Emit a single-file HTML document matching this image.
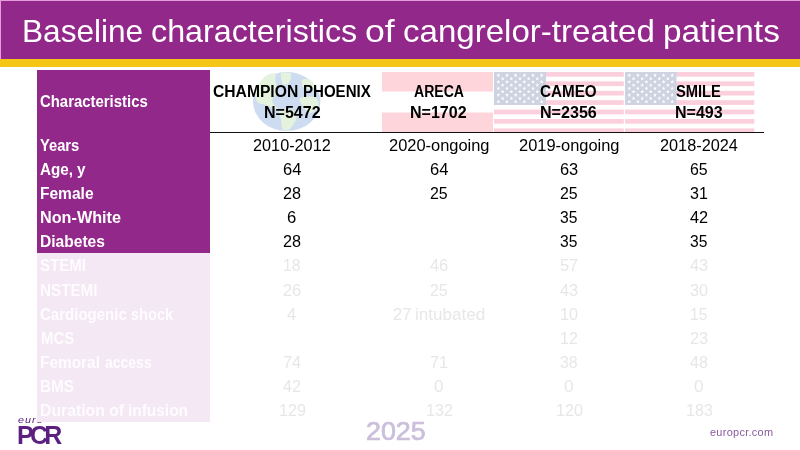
<!DOCTYPE html>
<html lang="en">
<head>
<meta charset="utf-8">
<title>Baseline characteristics of cangrelor-treated patients</title>
<style>
html,body{margin:0;padding:0;background:#fff;}
body{width:800px;height:450px;position:relative;overflow:hidden;font-family:"Liberation Sans",sans-serif;}
.abs{position:absolute;}
.t{position:absolute;white-space:nowrap;transform-origin:0 0;}
.w{position:absolute;top:0;transform-origin:0 0;white-space:nowrap;}
.b{font-weight:bold;}
svg{position:absolute;left:0;top:0;}
</style>
</head>
<body>
<div class="abs" style="left:0;top:0;width:800px;height:58.5px;background:#e59ddf"></div>
<div class="abs" style="left:1.1px;top:1px;width:798.9px;height:57.5px;background:#93288b"></div>
<div class="abs" style="left:0;top:58.5px;width:800px;height:8px;background:#f5c616"></div>
<div class="t" style="left:18.47px;top:414px;line-height:11px;font-size:9.8px;color:#5b2080;font-style:italic;letter-spacing:0.9px;transform:scaleX(1.0935);">euro</div>
<div class="t b" style="left:17.23px;top:421px;line-height:28px;font-size:25.4px;color:#5b2080;letter-spacing:-3.8px;transform:scaleX(0.9822);">PCR</div>
<div class="abs" style="left:37px;top:70px;width:173px;height:182.5px;background:#93288b"></div>
<div class="abs" style="left:37px;top:252.5px;width:173px;height:169px;background:#f3e8f3"></div>
<svg width="800" height="450" viewBox="0 0 800 450" aria-hidden="true">
<g>
<ellipse cx="286.7" cy="101.5" rx="33.7" ry="29.6" fill="#cddcf0"/>
<g fill="#e4f2de">
<path d="M262 80 L266 75.5 Q270 73 276 73.3 Q274.5 78 276 84 Q278.5 88 277 93 Q273 97 272 101 Q273 105 278 108 L276 110 Q270 106 264 104.5 L258 103 Q254.5 98 255.3 92 Q256 86 262 80 Z"/>
<path d="M281 73 Q286 71.8 291 73.5 Q292 79 288 84 L283 85 Q280.5 80 281 73 Z"/>
<path d="M302 80 Q307 77.5 312 81 Q315 85 314 88 Q309 90 304 88 Q301 85 302 80 Z"/>
<path d="M300 98 Q307 95.5 315 97 Q319.5 101 318.5 107 Q316 112 310 113 Q305 110 302 105 Q299 101 300 98 Z"/>
<path d="M279 110 Q285 107.5 292 110 Q297.5 113 296 120 Q293 126 288.5 130.6 L283 130 Q281 125 281 119 Q278 114 279 110 Z"/>
</g>
</g>
<rect x="382" y="72" width="111" height="19.5" fill="#fdd5da"/>
<rect x="382" y="112.5" width="111" height="19.5" fill="#fdd5da"/>
<g>
<rect x="494" y="72.00" width="129.8" height="4.70" fill="#fccfdc"/>
<rect x="494" y="81.40" width="129.8" height="4.70" fill="#fccfdc"/>
<rect x="494" y="90.80" width="129.8" height="4.70" fill="#fccfdc"/>
<rect x="494" y="100.20" width="129.8" height="4.70" fill="#fccfdc"/>
<rect x="494" y="109.60" width="129.8" height="4.70" fill="#fccfdc"/>
<rect x="494" y="119.00" width="129.8" height="4.70" fill="#fccfdc"/>
<rect x="494" y="128.40" width="129.8" height="4.70" fill="#fccfdc"/>
<rect x="494" y="72.0" width="52.0" height="32.90" fill="#cdd3e0"/>
<g fill="#fff">
<polygon points="498.33,73.29 498.83,74.60 500.24,74.67 499.14,75.55 499.51,76.91 498.33,76.14 497.16,76.91 497.52,75.55 496.43,74.67 497.83,74.60"/>
<polygon points="507.00,73.29 507.50,74.60 508.90,74.67 507.81,75.55 508.18,76.91 507.00,76.14 505.82,76.91 506.19,75.55 505.10,74.67 506.50,74.60"/>
<polygon points="515.67,73.29 516.17,74.60 517.57,74.67 516.48,75.55 516.84,76.91 515.67,76.14 514.49,76.91 514.86,75.55 513.76,74.67 515.17,74.60"/>
<polygon points="524.33,73.29 524.83,74.60 526.24,74.67 525.14,75.55 525.51,76.91 524.33,76.14 523.16,76.91 523.52,75.55 522.43,74.67 523.83,74.60"/>
<polygon points="533.00,73.29 533.50,74.60 534.90,74.67 533.81,75.55 534.18,76.91 533.00,76.14 531.82,76.91 532.19,75.55 531.10,74.67 532.50,74.60"/>
<polygon points="541.67,73.29 542.17,74.60 543.57,74.67 542.48,75.55 542.84,76.91 541.67,76.14 540.49,76.91 540.86,75.55 539.76,74.67 541.17,74.60"/>
<polygon points="502.67,76.58 503.17,77.89 504.57,77.96 503.48,78.84 503.84,80.20 502.67,79.43 501.49,80.20 501.86,78.84 500.76,77.96 502.17,77.89"/>
<polygon points="511.33,76.58 511.83,77.89 513.24,77.96 512.14,78.84 512.51,80.20 511.33,79.43 510.16,80.20 510.52,78.84 509.43,77.96 510.83,77.89"/>
<polygon points="520.00,76.58 520.50,77.89 521.90,77.96 520.81,78.84 521.18,80.20 520.00,79.43 518.82,80.20 519.19,78.84 518.10,77.96 519.50,77.89"/>
<polygon points="528.67,76.58 529.17,77.89 530.57,77.96 529.48,78.84 529.84,80.20 528.67,79.43 527.49,80.20 527.86,78.84 526.76,77.96 528.17,77.89"/>
<polygon points="537.33,76.58 537.83,77.89 539.24,77.96 538.14,78.84 538.51,80.20 537.33,79.43 536.16,80.20 536.52,78.84 535.43,77.96 536.83,77.89"/>
<polygon points="498.33,79.87 498.83,81.18 500.24,81.25 499.14,82.13 499.51,83.49 498.33,82.72 497.16,83.49 497.52,82.13 496.43,81.25 497.83,81.18"/>
<polygon points="507.00,79.87 507.50,81.18 508.90,81.25 507.81,82.13 508.18,83.49 507.00,82.72 505.82,83.49 506.19,82.13 505.10,81.25 506.50,81.18"/>
<polygon points="515.67,79.87 516.17,81.18 517.57,81.25 516.48,82.13 516.84,83.49 515.67,82.72 514.49,83.49 514.86,82.13 513.76,81.25 515.17,81.18"/>
<polygon points="524.33,79.87 524.83,81.18 526.24,81.25 525.14,82.13 525.51,83.49 524.33,82.72 523.16,83.49 523.52,82.13 522.43,81.25 523.83,81.18"/>
<polygon points="533.00,79.87 533.50,81.18 534.90,81.25 533.81,82.13 534.18,83.49 533.00,82.72 531.82,83.49 532.19,82.13 531.10,81.25 532.50,81.18"/>
<polygon points="541.67,79.87 542.17,81.18 543.57,81.25 542.48,82.13 542.84,83.49 541.67,82.72 540.49,83.49 540.86,82.13 539.76,81.25 541.17,81.18"/>
<polygon points="502.67,83.16 503.17,84.47 504.57,84.54 503.48,85.42 503.84,86.78 502.67,86.01 501.49,86.78 501.86,85.42 500.76,84.54 502.17,84.47"/>
<polygon points="511.33,83.16 511.83,84.47 513.24,84.54 512.14,85.42 512.51,86.78 511.33,86.01 510.16,86.78 510.52,85.42 509.43,84.54 510.83,84.47"/>
<polygon points="520.00,83.16 520.50,84.47 521.90,84.54 520.81,85.42 521.18,86.78 520.00,86.01 518.82,86.78 519.19,85.42 518.10,84.54 519.50,84.47"/>
<polygon points="528.67,83.16 529.17,84.47 530.57,84.54 529.48,85.42 529.84,86.78 528.67,86.01 527.49,86.78 527.86,85.42 526.76,84.54 528.17,84.47"/>
<polygon points="537.33,83.16 537.83,84.47 539.24,84.54 538.14,85.42 538.51,86.78 537.33,86.01 536.16,86.78 536.52,85.42 535.43,84.54 536.83,84.47"/>
<polygon points="498.33,86.45 498.83,87.76 500.24,87.83 499.14,88.71 499.51,90.07 498.33,89.30 497.16,90.07 497.52,88.71 496.43,87.83 497.83,87.76"/>
<polygon points="507.00,86.45 507.50,87.76 508.90,87.83 507.81,88.71 508.18,90.07 507.00,89.30 505.82,90.07 506.19,88.71 505.10,87.83 506.50,87.76"/>
<polygon points="515.67,86.45 516.17,87.76 517.57,87.83 516.48,88.71 516.84,90.07 515.67,89.30 514.49,90.07 514.86,88.71 513.76,87.83 515.17,87.76"/>
<polygon points="524.33,86.45 524.83,87.76 526.24,87.83 525.14,88.71 525.51,90.07 524.33,89.30 523.16,90.07 523.52,88.71 522.43,87.83 523.83,87.76"/>
<polygon points="533.00,86.45 533.50,87.76 534.90,87.83 533.81,88.71 534.18,90.07 533.00,89.30 531.82,90.07 532.19,88.71 531.10,87.83 532.50,87.76"/>
<polygon points="541.67,86.45 542.17,87.76 543.57,87.83 542.48,88.71 542.84,90.07 541.67,89.30 540.49,90.07 540.86,88.71 539.76,87.83 541.17,87.76"/>
<polygon points="502.67,89.74 503.17,91.05 504.57,91.12 503.48,92.00 503.84,93.36 502.67,92.59 501.49,93.36 501.86,92.00 500.76,91.12 502.17,91.05"/>
<polygon points="511.33,89.74 511.83,91.05 513.24,91.12 512.14,92.00 512.51,93.36 511.33,92.59 510.16,93.36 510.52,92.00 509.43,91.12 510.83,91.05"/>
<polygon points="520.00,89.74 520.50,91.05 521.90,91.12 520.81,92.00 521.18,93.36 520.00,92.59 518.82,93.36 519.19,92.00 518.10,91.12 519.50,91.05"/>
<polygon points="528.67,89.74 529.17,91.05 530.57,91.12 529.48,92.00 529.84,93.36 528.67,92.59 527.49,93.36 527.86,92.00 526.76,91.12 528.17,91.05"/>
<polygon points="537.33,89.74 537.83,91.05 539.24,91.12 538.14,92.00 538.51,93.36 537.33,92.59 536.16,93.36 536.52,92.00 535.43,91.12 536.83,91.05"/>
<polygon points="498.33,93.03 498.83,94.34 500.24,94.41 499.14,95.29 499.51,96.65 498.33,95.88 497.16,96.65 497.52,95.29 496.43,94.41 497.83,94.34"/>
<polygon points="507.00,93.03 507.50,94.34 508.90,94.41 507.81,95.29 508.18,96.65 507.00,95.88 505.82,96.65 506.19,95.29 505.10,94.41 506.50,94.34"/>
<polygon points="515.67,93.03 516.17,94.34 517.57,94.41 516.48,95.29 516.84,96.65 515.67,95.88 514.49,96.65 514.86,95.29 513.76,94.41 515.17,94.34"/>
<polygon points="524.33,93.03 524.83,94.34 526.24,94.41 525.14,95.29 525.51,96.65 524.33,95.88 523.16,96.65 523.52,95.29 522.43,94.41 523.83,94.34"/>
<polygon points="533.00,93.03 533.50,94.34 534.90,94.41 533.81,95.29 534.18,96.65 533.00,95.88 531.82,96.65 532.19,95.29 531.10,94.41 532.50,94.34"/>
<polygon points="541.67,93.03 542.17,94.34 543.57,94.41 542.48,95.29 542.84,96.65 541.67,95.88 540.49,96.65 540.86,95.29 539.76,94.41 541.17,94.34"/>
<polygon points="502.67,96.32 503.17,97.63 504.57,97.70 503.48,98.58 503.84,99.94 502.67,99.17 501.49,99.94 501.86,98.58 500.76,97.70 502.17,97.63"/>
<polygon points="511.33,96.32 511.83,97.63 513.24,97.70 512.14,98.58 512.51,99.94 511.33,99.17 510.16,99.94 510.52,98.58 509.43,97.70 510.83,97.63"/>
<polygon points="520.00,96.32 520.50,97.63 521.90,97.70 520.81,98.58 521.18,99.94 520.00,99.17 518.82,99.94 519.19,98.58 518.10,97.70 519.50,97.63"/>
<polygon points="528.67,96.32 529.17,97.63 530.57,97.70 529.48,98.58 529.84,99.94 528.67,99.17 527.49,99.94 527.86,98.58 526.76,97.70 528.17,97.63"/>
<polygon points="537.33,96.32 537.83,97.63 539.24,97.70 538.14,98.58 538.51,99.94 537.33,99.17 536.16,99.94 536.52,98.58 535.43,97.70 536.83,97.63"/>
<polygon points="498.33,99.61 498.83,100.92 500.24,100.99 499.14,101.87 499.51,103.23 498.33,102.46 497.16,103.23 497.52,101.87 496.43,100.99 497.83,100.92"/>
<polygon points="507.00,99.61 507.50,100.92 508.90,100.99 507.81,101.87 508.18,103.23 507.00,102.46 505.82,103.23 506.19,101.87 505.10,100.99 506.50,100.92"/>
<polygon points="515.67,99.61 516.17,100.92 517.57,100.99 516.48,101.87 516.84,103.23 515.67,102.46 514.49,103.23 514.86,101.87 513.76,100.99 515.17,100.92"/>
<polygon points="524.33,99.61 524.83,100.92 526.24,100.99 525.14,101.87 525.51,103.23 524.33,102.46 523.16,103.23 523.52,101.87 522.43,100.99 523.83,100.92"/>
<polygon points="533.00,99.61 533.50,100.92 534.90,100.99 533.81,101.87 534.18,103.23 533.00,102.46 531.82,103.23 532.19,101.87 531.10,100.99 532.50,100.92"/>
<polygon points="541.67,99.61 542.17,100.92 543.57,100.99 542.48,101.87 542.84,103.23 541.67,102.46 540.49,103.23 540.86,101.87 539.76,100.99 541.17,100.92"/>
</g></g>
<g>
<rect x="625" y="72.00" width="129.3" height="4.70" fill="#fccfdc"/>
<rect x="625" y="81.40" width="129.3" height="4.70" fill="#fccfdc"/>
<rect x="625" y="90.80" width="129.3" height="4.70" fill="#fccfdc"/>
<rect x="625" y="100.20" width="129.3" height="4.70" fill="#fccfdc"/>
<rect x="625" y="109.60" width="129.3" height="4.70" fill="#fccfdc"/>
<rect x="625" y="119.00" width="129.3" height="4.70" fill="#fccfdc"/>
<rect x="625" y="128.40" width="129.3" height="4.70" fill="#fccfdc"/>
<rect x="625" y="72.0" width="51.5" height="32.90" fill="#cdd3e0"/>
<g fill="#fff">
<polygon points="629.29,73.29 629.79,74.60 631.19,74.67 630.10,75.55 630.47,76.91 629.29,76.14 628.12,76.91 628.48,75.55 627.39,74.67 628.79,74.60"/>
<polygon points="637.88,73.29 638.37,74.60 639.78,74.67 638.68,75.55 639.05,76.91 637.88,76.14 636.70,76.91 637.07,75.55 635.97,74.67 637.38,74.60"/>
<polygon points="646.46,73.29 646.96,74.60 648.36,74.67 647.27,75.55 647.63,76.91 646.46,76.14 645.28,76.91 645.65,75.55 644.56,74.67 645.96,74.60"/>
<polygon points="655.04,73.29 655.54,74.60 656.94,74.67 655.85,75.55 656.22,76.91 655.04,76.14 653.87,76.91 654.23,75.55 653.14,74.67 654.54,74.60"/>
<polygon points="663.62,73.29 664.12,74.60 665.53,74.67 664.43,75.55 664.80,76.91 663.62,76.14 662.45,76.91 662.82,75.55 661.72,74.67 663.13,74.60"/>
<polygon points="672.21,73.29 672.71,74.60 674.11,74.67 673.02,75.55 673.38,76.91 672.21,76.14 671.03,76.91 671.40,75.55 670.31,74.67 671.71,74.60"/>
<polygon points="633.58,76.58 634.08,77.89 635.49,77.96 634.39,78.84 634.76,80.20 633.58,79.43 632.41,80.20 632.77,78.84 631.68,77.96 633.08,77.89"/>
<polygon points="642.17,76.58 642.67,77.89 644.07,77.96 642.98,78.84 643.34,80.20 642.17,79.43 640.99,80.20 641.36,78.84 640.26,77.96 641.67,77.89"/>
<polygon points="650.75,76.58 651.25,77.89 652.65,77.96 651.56,78.84 651.93,80.20 650.75,79.43 649.57,80.20 649.94,78.84 648.85,77.96 650.25,77.89"/>
<polygon points="659.33,76.58 659.83,77.89 661.24,77.96 660.14,78.84 660.51,80.20 659.33,79.43 658.16,80.20 658.52,78.84 657.43,77.96 658.83,77.89"/>
<polygon points="667.92,76.58 668.42,77.89 669.82,77.96 668.73,78.84 669.09,80.20 667.92,79.43 666.74,80.20 667.11,78.84 666.01,77.96 667.42,77.89"/>
<polygon points="629.29,79.87 629.79,81.18 631.19,81.25 630.10,82.13 630.47,83.49 629.29,82.72 628.12,83.49 628.48,82.13 627.39,81.25 628.79,81.18"/>
<polygon points="637.88,79.87 638.37,81.18 639.78,81.25 638.68,82.13 639.05,83.49 637.88,82.72 636.70,83.49 637.07,82.13 635.97,81.25 637.38,81.18"/>
<polygon points="646.46,79.87 646.96,81.18 648.36,81.25 647.27,82.13 647.63,83.49 646.46,82.72 645.28,83.49 645.65,82.13 644.56,81.25 645.96,81.18"/>
<polygon points="655.04,79.87 655.54,81.18 656.94,81.25 655.85,82.13 656.22,83.49 655.04,82.72 653.87,83.49 654.23,82.13 653.14,81.25 654.54,81.18"/>
<polygon points="663.62,79.87 664.12,81.18 665.53,81.25 664.43,82.13 664.80,83.49 663.62,82.72 662.45,83.49 662.82,82.13 661.72,81.25 663.13,81.18"/>
<polygon points="672.21,79.87 672.71,81.18 674.11,81.25 673.02,82.13 673.38,83.49 672.21,82.72 671.03,83.49 671.40,82.13 670.31,81.25 671.71,81.18"/>
<polygon points="633.58,83.16 634.08,84.47 635.49,84.54 634.39,85.42 634.76,86.78 633.58,86.01 632.41,86.78 632.77,85.42 631.68,84.54 633.08,84.47"/>
<polygon points="642.17,83.16 642.67,84.47 644.07,84.54 642.98,85.42 643.34,86.78 642.17,86.01 640.99,86.78 641.36,85.42 640.26,84.54 641.67,84.47"/>
<polygon points="650.75,83.16 651.25,84.47 652.65,84.54 651.56,85.42 651.93,86.78 650.75,86.01 649.57,86.78 649.94,85.42 648.85,84.54 650.25,84.47"/>
<polygon points="659.33,83.16 659.83,84.47 661.24,84.54 660.14,85.42 660.51,86.78 659.33,86.01 658.16,86.78 658.52,85.42 657.43,84.54 658.83,84.47"/>
<polygon points="667.92,83.16 668.42,84.47 669.82,84.54 668.73,85.42 669.09,86.78 667.92,86.01 666.74,86.78 667.11,85.42 666.01,84.54 667.42,84.47"/>
<polygon points="629.29,86.45 629.79,87.76 631.19,87.83 630.10,88.71 630.47,90.07 629.29,89.30 628.12,90.07 628.48,88.71 627.39,87.83 628.79,87.76"/>
<polygon points="637.88,86.45 638.37,87.76 639.78,87.83 638.68,88.71 639.05,90.07 637.88,89.30 636.70,90.07 637.07,88.71 635.97,87.83 637.38,87.76"/>
<polygon points="646.46,86.45 646.96,87.76 648.36,87.83 647.27,88.71 647.63,90.07 646.46,89.30 645.28,90.07 645.65,88.71 644.56,87.83 645.96,87.76"/>
<polygon points="655.04,86.45 655.54,87.76 656.94,87.83 655.85,88.71 656.22,90.07 655.04,89.30 653.87,90.07 654.23,88.71 653.14,87.83 654.54,87.76"/>
<polygon points="663.62,86.45 664.12,87.76 665.53,87.83 664.43,88.71 664.80,90.07 663.62,89.30 662.45,90.07 662.82,88.71 661.72,87.83 663.13,87.76"/>
<polygon points="672.21,86.45 672.71,87.76 674.11,87.83 673.02,88.71 673.38,90.07 672.21,89.30 671.03,90.07 671.40,88.71 670.31,87.83 671.71,87.76"/>
<polygon points="633.58,89.74 634.08,91.05 635.49,91.12 634.39,92.00 634.76,93.36 633.58,92.59 632.41,93.36 632.77,92.00 631.68,91.12 633.08,91.05"/>
<polygon points="642.17,89.74 642.67,91.05 644.07,91.12 642.98,92.00 643.34,93.36 642.17,92.59 640.99,93.36 641.36,92.00 640.26,91.12 641.67,91.05"/>
<polygon points="650.75,89.74 651.25,91.05 652.65,91.12 651.56,92.00 651.93,93.36 650.75,92.59 649.57,93.36 649.94,92.00 648.85,91.12 650.25,91.05"/>
<polygon points="659.33,89.74 659.83,91.05 661.24,91.12 660.14,92.00 660.51,93.36 659.33,92.59 658.16,93.36 658.52,92.00 657.43,91.12 658.83,91.05"/>
<polygon points="667.92,89.74 668.42,91.05 669.82,91.12 668.73,92.00 669.09,93.36 667.92,92.59 666.74,93.36 667.11,92.00 666.01,91.12 667.42,91.05"/>
<polygon points="629.29,93.03 629.79,94.34 631.19,94.41 630.10,95.29 630.47,96.65 629.29,95.88 628.12,96.65 628.48,95.29 627.39,94.41 628.79,94.34"/>
<polygon points="637.88,93.03 638.37,94.34 639.78,94.41 638.68,95.29 639.05,96.65 637.88,95.88 636.70,96.65 637.07,95.29 635.97,94.41 637.38,94.34"/>
<polygon points="646.46,93.03 646.96,94.34 648.36,94.41 647.27,95.29 647.63,96.65 646.46,95.88 645.28,96.65 645.65,95.29 644.56,94.41 645.96,94.34"/>
<polygon points="655.04,93.03 655.54,94.34 656.94,94.41 655.85,95.29 656.22,96.65 655.04,95.88 653.87,96.65 654.23,95.29 653.14,94.41 654.54,94.34"/>
<polygon points="663.62,93.03 664.12,94.34 665.53,94.41 664.43,95.29 664.80,96.65 663.62,95.88 662.45,96.65 662.82,95.29 661.72,94.41 663.13,94.34"/>
<polygon points="672.21,93.03 672.71,94.34 674.11,94.41 673.02,95.29 673.38,96.65 672.21,95.88 671.03,96.65 671.40,95.29 670.31,94.41 671.71,94.34"/>
<polygon points="633.58,96.32 634.08,97.63 635.49,97.70 634.39,98.58 634.76,99.94 633.58,99.17 632.41,99.94 632.77,98.58 631.68,97.70 633.08,97.63"/>
<polygon points="642.17,96.32 642.67,97.63 644.07,97.70 642.98,98.58 643.34,99.94 642.17,99.17 640.99,99.94 641.36,98.58 640.26,97.70 641.67,97.63"/>
<polygon points="650.75,96.32 651.25,97.63 652.65,97.70 651.56,98.58 651.93,99.94 650.75,99.17 649.57,99.94 649.94,98.58 648.85,97.70 650.25,97.63"/>
<polygon points="659.33,96.32 659.83,97.63 661.24,97.70 660.14,98.58 660.51,99.94 659.33,99.17 658.16,99.94 658.52,98.58 657.43,97.70 658.83,97.63"/>
<polygon points="667.92,96.32 668.42,97.63 669.82,97.70 668.73,98.58 669.09,99.94 667.92,99.17 666.74,99.94 667.11,98.58 666.01,97.70 667.42,97.63"/>
<polygon points="629.29,99.61 629.79,100.92 631.19,100.99 630.10,101.87 630.47,103.23 629.29,102.46 628.12,103.23 628.48,101.87 627.39,100.99 628.79,100.92"/>
<polygon points="637.88,99.61 638.37,100.92 639.78,100.99 638.68,101.87 639.05,103.23 637.88,102.46 636.70,103.23 637.07,101.87 635.97,100.99 637.38,100.92"/>
<polygon points="646.46,99.61 646.96,100.92 648.36,100.99 647.27,101.87 647.63,103.23 646.46,102.46 645.28,103.23 645.65,101.87 644.56,100.99 645.96,100.92"/>
<polygon points="655.04,99.61 655.54,100.92 656.94,100.99 655.85,101.87 656.22,103.23 655.04,102.46 653.87,103.23 654.23,101.87 653.14,100.99 654.54,100.92"/>
<polygon points="663.62,99.61 664.12,100.92 665.53,100.99 664.43,101.87 664.80,103.23 663.62,102.46 662.45,103.23 662.82,101.87 661.72,100.99 663.13,100.92"/>
<polygon points="672.21,99.61 672.71,100.92 674.11,100.99 673.02,101.87 673.38,103.23 672.21,102.46 671.03,103.23 671.40,101.87 670.31,100.99 671.71,100.92"/>
</g></g>
</svg>
<div class="abs" style="left:210px;top:131.8px;width:553.5px;height:1.2px;background:#111"></div>
<div class="t" style="left:0;top:13px;line-height:36px;font-size:32.0px;color:#fff;"><span class="w" style="left:21.75px;transform:scaleX(0.9869)">Baseline</span> <span class="w" style="left:150.78px;transform:scaleX(1.0086)">characteristics</span> <span class="w" style="left:365.19px;transform:scaleX(1.1143)">of</span> <span class="w" style="left:402.90px;transform:scaleX(1.0333)">cangrelor-treated</span> <span class="w" style="left:663.04px;transform:scaleX(1.0422)">patients</span></div>
<div class="t b" style="left:40.04px;top:93px;line-height:17px;font-size:16.0px;color:#fff;transform:scaleX(0.9317);">Characteristics</div>
<div class="t b" style="left:0;top:83px;line-height:17px;font-size:16.0px;color:#000;"><span class="w" style="left:213.35px;transform:scaleX(0.9779)">CHAMPION</span> <span class="w" style="left:302.50px;transform:scaleX(0.9406)">PHOENIX</span></div>
<div class="t b" style="left:263.59px;top:104px;line-height:17px;font-size:16.0px;color:#000;transform:scaleX(1.0019);">N=5472</div>
<div class="t b" style="left:413.80px;top:83px;line-height:17px;font-size:16.0px;color:#000;transform:scaleX(0.8786);">ARECA</div>
<div class="t b" style="left:410.44px;top:104px;line-height:17px;font-size:16.0px;color:#000;transform:scaleX(1.0019);">N=1702</div>
<div class="t b" style="left:540.42px;top:83px;line-height:17px;font-size:16.0px;color:#000;transform:scaleX(0.9517);">CAMEO</div>
<div class="t b" style="left:540.44px;top:104px;line-height:17px;font-size:16.0px;color:#000;transform:scaleX(1.0056);">N=2356</div>
<div class="t b" style="left:676.25px;top:83px;line-height:17px;font-size:16.0px;color:#000;transform:scaleX(0.9183);">SMILE</div>
<div class="t b" style="left:674.95px;top:104px;line-height:17px;font-size:16.0px;color:#000;transform:scaleX(1.0020);">N=493</div>
<div class="t b" style="left:39.92px;top:137px;line-height:17px;font-size:16.0px;color:#fff;transform:scaleX(0.9196);">Years</div>
<div class="t" style="left:253.02px;top:137px;line-height:17px;font-size:16.0px;color:#000;transform:scaleX(1.0161);">2010-2012</div>
<div class="t" style="left:388.82px;top:137px;line-height:17px;font-size:16.0px;color:#000;transform:scaleX(1.0269);">2020-ongoing</div>
<div class="t" style="left:518.82px;top:137px;line-height:17px;font-size:16.0px;color:#000;transform:scaleX(1.0269);">2019-ongoing</div>
<div class="t" style="left:659.87px;top:137px;line-height:17px;font-size:16.0px;color:#000;transform:scaleX(1.0173);">2018-2024</div>
<div class="t b" style="left:0;top:161px;line-height:17px;font-size:16.0px;color:#fff;"><span class="w" style="left:40.01px;transform:scaleX(0.9501)">Age,</span> <span class="w" style="left:76.77px;transform:scaleX(0.9545)">y</span></div>
<div class="t" style="left:282.76px;top:161px;line-height:17px;font-size:16.0px;color:#000;transform:scaleX(1.0309);">64</div>
<div class="t" style="left:429.61px;top:161px;line-height:17px;font-size:16.0px;color:#000;transform:scaleX(1.0309);">64</div>
<div class="t" style="left:559.62px;top:161px;line-height:17px;font-size:16.0px;color:#000;transform:scaleX(1.0253);">63</div>
<div class="t" style="left:689.64px;top:161px;line-height:17px;font-size:16.0px;color:#000;transform:scaleX(0.9947);">65</div>
<div class="t b" style="left:40.23px;top:185px;line-height:17px;font-size:16.0px;color:#fff;transform:scaleX(0.9705);">Female</div>
<div class="t" style="left:282.78px;top:185px;line-height:17px;font-size:16.0px;color:#000;transform:scaleX(1.0130);">28</div>
<div class="t" style="left:429.64px;top:185px;line-height:17px;font-size:16.0px;color:#000;transform:scaleX(0.9947);">25</div>
<div class="t" style="left:559.64px;top:185px;line-height:17px;font-size:16.0px;color:#000;transform:scaleX(0.9947);">25</div>
<div class="t" style="left:689.94px;top:185px;line-height:17px;font-size:16.0px;color:#000;transform:scaleX(1.0008);">31</div>
<div class="t b" style="left:40.29px;top:209px;line-height:17px;font-size:16.0px;color:#fff;transform:scaleX(1.0123);">Non-White</div>
<div class="t" style="left:287.26px;top:209px;line-height:17px;font-size:16.0px;color:#000;transform:scaleX(1.0405);">6</div>
<div class="t" style="left:559.95px;top:209px;line-height:17px;font-size:16.0px;color:#000;transform:scaleX(0.9767);">35</div>
<div class="t" style="left:689.73px;top:209px;line-height:17px;font-size:16.0px;color:#000;transform:scaleX(1.0187);">42</div>
<div class="t b" style="left:40.33px;top:233px;line-height:17px;font-size:16.0px;color:#fff;transform:scaleX(0.9727);">Diabetes</div>
<div class="t" style="left:282.78px;top:233px;line-height:17px;font-size:16.0px;color:#000;transform:scaleX(1.0130);">28</div>
<div class="t" style="left:559.95px;top:233px;line-height:17px;font-size:16.0px;color:#000;transform:scaleX(0.9767);">35</div>
<div class="t" style="left:689.95px;top:233px;line-height:17px;font-size:16.0px;color:#000;transform:scaleX(0.9767);">35</div>
<div class="t b" style="left:40.22px;top:257px;line-height:17px;font-size:16.0px;color:#fefcfe;transform:scaleX(0.9389);">STEMI</div>
<div class="t" style="left:283.20px;top:257px;line-height:17px;font-size:16.0px;color:#e7e7e7;transform:scaleX(0.9883);">18</div>
<div class="t" style="left:429.73px;top:257px;line-height:17px;font-size:16.0px;color:#e7e7e7;transform:scaleX(1.0186);">46</div>
<div class="t" style="left:559.93px;top:257px;line-height:17px;font-size:16.0px;color:#e7e7e7;transform:scaleX(1.0191);">57</div>
<div class="t" style="left:689.73px;top:257px;line-height:17px;font-size:16.0px;color:#e7e7e7;transform:scaleX(1.0186);">43</div>
<div class="t b" style="left:40.35px;top:282px;line-height:17px;font-size:16.0px;color:#fefcfe;transform:scaleX(0.9513);">NSTEMI</div>
<div class="t" style="left:282.77px;top:282px;line-height:17px;font-size:16.0px;color:#e7e7e7;transform:scaleX(1.0253);">26</div>
<div class="t" style="left:429.64px;top:282px;line-height:17px;font-size:16.0px;color:#e7e7e7;transform:scaleX(0.9947);">25</div>
<div class="t" style="left:559.73px;top:282px;line-height:17px;font-size:16.0px;color:#e7e7e7;transform:scaleX(1.0186);">43</div>
<div class="t" style="left:689.93px;top:282px;line-height:17px;font-size:16.0px;color:#e7e7e7;transform:scaleX(1.0128);">30</div>
<div class="t b" style="left:0;top:306px;line-height:17px;font-size:16.0px;color:#fefcfe;"><span class="w" style="left:40.04px;transform:scaleX(0.9387)">Cardiogenic</span> <span class="w" style="left:130.56px;transform:scaleX(0.9103)">shock</span></div>
<div class="t" style="left:287.38px;top:306px;line-height:17px;font-size:16.0px;color:#e7e7e7;transform:scaleX(1.0366);">4</div>
<div class="t" style="left:0;top:306px;line-height:17px;font-size:16.0px;color:#e7e7e7;"><span class="w" style="left:392.50px;transform:scaleX(1.0378)">27</span> <span class="w" style="left:414.51px;transform:scaleX(1.0661)">intubated</span></div>
<div class="t" style="left:560.03px;top:306px;line-height:17px;font-size:16.0px;color:#e7e7e7;transform:scaleX(1.0071);">10</div>
<div class="t" style="left:690.08px;top:306px;line-height:17px;font-size:16.0px;color:#e7e7e7;transform:scaleX(0.9696);">15</div>
<div class="t b" style="left:40.57px;top:330px;line-height:17px;font-size:16.0px;color:#fefcfe;transform:scaleX(0.9314);">MCS</div>
<div class="t" style="left:560.04px;top:330px;line-height:17px;font-size:16.0px;color:#e7e7e7;transform:scaleX(1.0008);">12</div>
<div class="t" style="left:689.62px;top:330px;line-height:17px;font-size:16.0px;color:#e7e7e7;transform:scaleX(1.0253);">23</div>
<div class="t b" style="left:0;top:354px;line-height:17px;font-size:16.0px;color:#fefcfe;"><span class="w" style="left:40.24px;transform:scaleX(0.9632)">Femoral</span> <span class="w" style="left:104.52px;transform:scaleX(0.8742)">access</span></div>
<div class="t" style="left:282.87px;top:354px;line-height:17px;font-size:16.0px;color:#e7e7e7;transform:scaleX(1.0249);">74</div>
<div class="t" style="left:429.73px;top:354px;line-height:17px;font-size:16.0px;color:#e7e7e7;transform:scaleX(1.0131);">71</div>
<div class="t" style="left:559.94px;top:354px;line-height:17px;font-size:16.0px;color:#e7e7e7;transform:scaleX(0.9948);">38</div>
<div class="t" style="left:689.74px;top:354px;line-height:17px;font-size:16.0px;color:#e7e7e7;transform:scaleX(1.0067);">48</div>
<div class="t b" style="left:40.35px;top:378px;line-height:17px;font-size:16.0px;color:#fefcfe;transform:scaleX(0.9536);">BMS</div>
<div class="t" style="left:282.88px;top:378px;line-height:17px;font-size:16.0px;color:#e7e7e7;transform:scaleX(1.0187);">42</div>
<div class="t" style="left:434.01px;top:378px;line-height:17px;font-size:16.0px;color:#e7e7e7;transform:scaleX(1.0649);">0</div>
<div class="t" style="left:564.01px;top:378px;line-height:17px;font-size:16.0px;color:#e7e7e7;transform:scaleX(1.0649);">0</div>
<div class="t" style="left:694.01px;top:378px;line-height:17px;font-size:16.0px;color:#e7e7e7;transform:scaleX(1.0649);">0</div>
<div class="t b" style="left:0;top:402px;line-height:17px;font-size:16.0px;color:#fefcfe;"><span class="w" style="left:40.31px;transform:scaleX(0.9868)">Duration</span> <span class="w" style="left:109.01px;transform:scaleX(1.0058)">of</span> <span class="w" style="left:127.96px;transform:scaleX(0.9644)">infusion</span></div>
<div class="t" style="left:278.67px;top:402px;line-height:17px;font-size:16.0px;color:#e7e7e7;transform:scaleX(1.0091);">129</div>
<div class="t" style="left:425.53px;top:402px;line-height:17px;font-size:16.0px;color:#e7e7e7;transform:scaleX(1.0051);">132</div>
<div class="t" style="left:555.52px;top:402px;line-height:17px;font-size:16.0px;color:#e7e7e7;transform:scaleX(1.0091);">120</div>
<div class="t" style="left:685.53px;top:402px;line-height:17px;font-size:16.0px;color:#e7e7e7;transform:scaleX(1.0051);">183</div>
<div class="t" style="left:366.01px;top:417px;line-height:28px;font-size:24.9px;color:#cbbfdc;-webkit-text-stroke:0.7px #cbbfdc;transform:scaleX(1.0780);">2025</div>
<div class="t" style="left:709.61px;top:426px;line-height:12px;font-size:11.2px;color:#87599b;letter-spacing:0.3px;transform:scaleX(0.9764);">europcr.com</div>
</body>
</html>
